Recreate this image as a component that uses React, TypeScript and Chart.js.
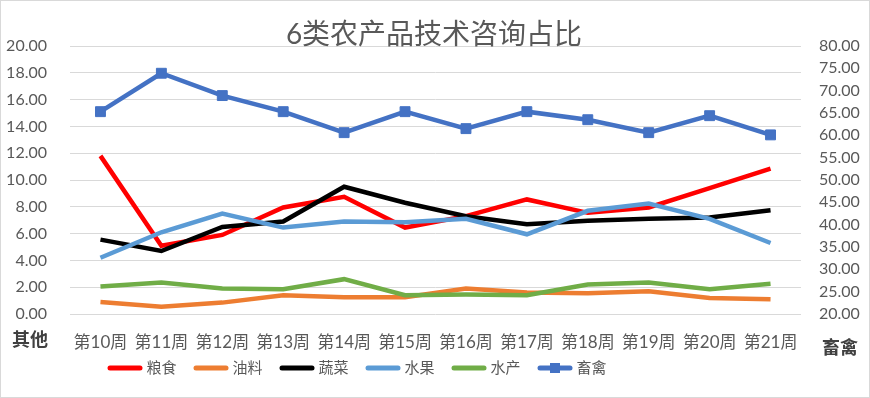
import React, { useEffect, useRef } from 'react';
import { Chart, registerables } from 'chart.js';

Chart.register(...registerables);

const chartTitle = '6类农产品技术咨询占比';
const leftAxisTitle = '其他';
const rightAxisTitle = '畜禽';
const weeks = ['第10周', '第11周', '第12周', '第13周', '第14周', '第15周', '第16周', '第17周', '第18周', '第19周', '第20周', '第21周'];
const grain = [11.8, 5.1, 5.9, 7.95, 8.75, 6.45, 7.3, 8.55, 7.55, 7.95, 9.4, 10.85];
const oilseed = [0.9, 0.55, 0.85, 1.4, 1.25, 1.25, 1.9, 1.6, 1.55, 1.7, 1.2, 1.1];
const vegetable = [5.55, 4.7, 6.5, 6.9, 9.5, 8.3, 7.3, 6.7, 6.95, 7.1, 7.2, 7.75];
const fruit = [4.2, 6.1, 7.5, 6.45, 6.9, 6.85, 7.1, 5.95, 7.7, 8.25, 7.1, 5.3];
const aquatic = [2.05, 2.35, 1.9, 1.85, 2.6, 1.4, 1.45, 1.4, 2.2, 2.35, 1.85, 2.25];
const livestock = [65.3, 73.9, 68.9, 65.3, 60.6, 65.3, 61.5, 65.3, 63.5, 60.6, 64.4, 60.1];
const seriesNames = ['粮食', '油料', '蔬菜', '水果', '水产', '畜禽'];
const seriesColors = ['#FF0000', '#ED7D31', '#000000', '#5B9BD5', '#70AD47', '#4472C4'];

const FONT = '"Lato", "Noto Sans CJK SC", sans-serif';
const TEXT = '#595959';

function makeLegendImage(color: string, withSquare: boolean): HTMLCanvasElement {
  const c = document.createElement('canvas');
  c.width = 36;
  c.height = 14;
  const g = c.getContext('2d')!;
  g.strokeStyle = color;
  g.lineWidth = 5;
  g.lineCap = 'round';
  g.beginPath();
  g.moveTo(3, 7);
  g.lineTo(33, 7);
  g.stroke();
  if (withSquare) {
    g.fillStyle = color;
    g.fillRect(13, 2, 10, 10);
  }
  return c;
}

const decorPlugin = {
  id: 'decor',
  afterLayout(chart: any) {
    const lg = chart.legend;
    if (!lg || !lg.lineWidths) return;
    const pad = lg.options.labels.padding;
    const cur = (lg.left + pad + lg.right - lg.lineWidths[0]) / 2;
    const dx = 111 - cur;
    lg.left += dx;
    lg.right += dx;
    const dy = 340 - lg.top;
    lg.top += dy;
    lg.bottom += dy;
  },
  afterDraw(chart: any) {
    const ctx = chart.ctx;
    ctx.save();
    ctx.strokeStyle = '#D9D9D9';
    ctx.lineWidth = 1;
    ctx.strokeRect(0.5, 0.5, chart.width - 1, chart.height - 1);
    ctx.fillStyle = TEXT;
    ctx.textBaseline = 'middle';
    ctx.textAlign = 'center';
    ctx.font = `28px ${FONT}`;
    ctx.fillText(chartTitle, 434, 35);
    ctx.fillStyle = '#404040';
    ctx.font = `bold 18px ${FONT}`;
    ctx.textAlign = 'right';
    ctx.fillText(leftAxisTitle, 48, 340);
    ctx.textAlign = 'left';
    ctx.fillText(rightAxisTitle, 822, 348);
    ctx.restore();
  },
};

export default function App() {
  const ref = useRef<HTMLCanvasElement>(null);
  useEffect(() => {
    document.body.style.margin = '0';
    const values = [grain, oilseed, vegetable, fruit, aquatic, livestock];
    const legendImgs = seriesColors.map((c, i) => makeLegendImage(c, i === 5));
    const datasets = values.map((data, i) => ({
      label: seriesNames[i],
      data,
      borderColor: seriesColors[i],
      backgroundColor: seriesColors[i],
      borderWidth: 4.5,
      tension: 0,
      yAxisID: i === 5 ? 'y2' : 'y',
      pointRadius: i === 5 ? 7 : 0,
      pointStyle: 'rect',
      pointBorderWidth: 1,
      pointBorderColor: seriesColors[i],
      pointBackgroundColor: seriesColors[i],
      order: 5 - i,
    }));
    const chart = new Chart(ref.current!, {
      type: 'line',
      data: { labels: weeks, datasets },
      plugins: [decorPlugin],
      options: {
        responsive: false,
        animation: false,
        devicePixelRatio: 1,
        layout: { padding: { top: 46, bottom: 0.5, left: 0, right: 0 } },
        plugins: {
          title: { display: false },
          tooltip: { enabled: false },
          legend: {
            position: 'bottom',
            labels: {
              usePointStyle: true,
              pointStyleWidth: 28,
              boxWidth: 28,
              boxHeight: 15,
              padding: 20.5,
              color: TEXT,
              font: { size: 15, family: FONT },
              sort: (a: any, b: any) => a.datasetIndex - b.datasetIndex,
              generateLabels: (ch: any) =>
                ch.data.datasets.map((ds: any, i: number) => ({
                  text: ds.label,
                  fillStyle: seriesColors[i],
                  strokeStyle: seriesColors[i],
                  lineWidth: 0,
                  hidden: false,
                  pointStyle: legendImgs[i],
                  datasetIndex: i,
                  fontColor: TEXT,
                })),
            },
          },
        },
        scales: {
          x: {
            offset: true,
            grid: { display: false },
            border: { display: false },
            ticks: { color: TEXT, font: { size: 17, family: FONT }, padding: 10, maxRotation: 0, autoSkip: false },
            afterFit: (s: any) => { s.height = 38; },
          },
          y: {
            position: 'left',
            min: 0,
            max: 20,
            grid: { color: '#D9D9D9', lineWidth: 1, drawTicks: false },
            border: { display: false },
            ticks: {
              stepSize: 2,
              padding: 23,
              autoSkip: false,
              color: TEXT,
              font: { size: 16, family: FONT },
              callback: (v: any) => Number(v).toFixed(2),
            },
            afterFit: (s: any) => { s.width = 70; },
          },
          y2: {
            position: 'right',
            min: 20,
            max: 80,
            grid: { display: false, drawTicks: false },
            border: { display: false },
            ticks: {
              stepSize: 5,
              padding: 18,
              autoSkip: false,
              color: TEXT,
              font: { size: 16, family: FONT },
              callback: (v: any) => Number(v).toFixed(2),
            },
            afterFit: (s: any) => { s.width = 69; },
          },
        },
      },
    } as any);
    return () => chart.destroy();
  }, []);
  return (
    <div style={{ position: 'absolute', left: 0, top: 0, width: 870, height: 398 }}>
      <canvas ref={ref} width={870} height={398} style={{ display: 'block' }} />
    </div>
  );
}
